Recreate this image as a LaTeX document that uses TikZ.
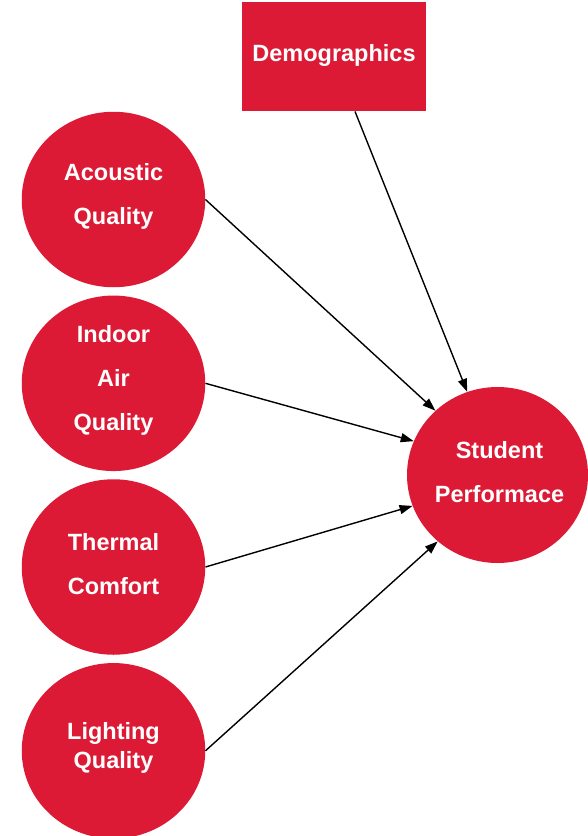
\documentclass[tikz,border=0pt]{standalone}
\usepackage{fontspec}
\setmainfont{Liberation Sans}
\usetikzlibrary{shapes.geometric,arrows.meta}
\definecolor{crimson}{HTML}{DC1A35}
\tikzset{
  factor/.style={ellipse, fill=crimson, draw=none, inner sep=0pt,
    minimum width=183.5pt, minimum height=175.5pt},
  txt/.style={text=white, align=center, inner sep=0pt, yshift=3pt,
    font=\fontsize{23.5}{44}\selectfont\bfseries},
  link/.style={draw=black, line width=1.4pt,
    -{Triangle[length=13pt,width=9pt]}}
}
\begin{document}
\begin{tikzpicture}[x=1pt,y=-1pt]
  \useasboundingbox (0,0) rectangle (588,836);

  % demographic box
  \node[fill=crimson, inner sep=0pt, minimum width=183.5pt, minimum height=109.5pt,
        label={[txt,yshift=-1.5pt]center:Demographics}] (demo) at (334,56.5) {};

  % environmental factors
  \node[factor, label={[txt]center:Acoustic\\Quality}] (acou) at (113.5,199.5) {};
  \node[factor, label={[txt]center:Indoor\\Air\\Quality}] (iaq) at (113.5,383.3) {};
  \node[factor, label={[txt]center:Thermal\\Comfort}] (therm) at (113.5,567) {};
  \node[factor, label={[txt,font=\fontsize{23.5}{29.5}\selectfont\bfseries]center:Lighting\\Quality}] (light) at (113.5,750.8) {};

  % outcome
  \node[factor, minimum width=181pt, minimum height=176pt,
        label={[txt,xshift=2pt]center:Student\\Performace}] (perf) at (497.5,475) {};

  % influences
  \draw[link] ([xshift=21pt]demo.south) -- (perf.110.8);
  \draw[link] (acou.east) -- (perf.134.3);
  \draw[link] (iaq.east) -- (perf.158.7);
  \draw[link] (therm.east) -- (perf.200.1);
  \draw[link] (light.east) -- (perf.228.8);
\end{tikzpicture}
\end{document}
